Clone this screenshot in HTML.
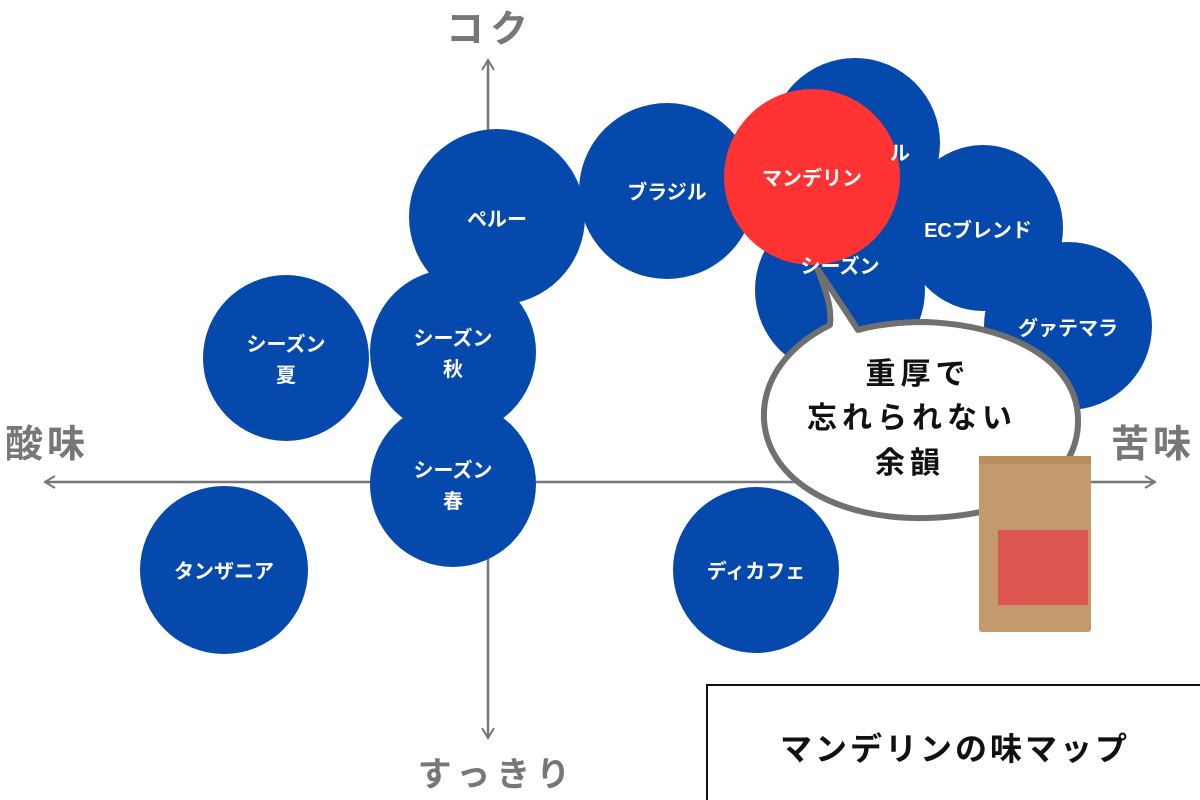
<!DOCTYPE html>
<html><head><meta charset="utf-8"><style>
body{margin:0;width:1200px;height:800px;background:#fff;overflow:hidden;font-family:"Liberation Sans","Noto Sans CJK JP",sans-serif}
</style></head><body>
<svg width="1200" height="800" viewBox="0 0 1200 800" style="position:absolute;left:0;top:0" font-family="Liberation Sans, Noto Sans CJK JP, sans-serif">
<line x1="488" y1="60" x2="488" y2="738" stroke="#777" stroke-width="2.5"/>
<path d="M482,70 L488,60 L494,70 M482,728 L488,738 L494,728" fill="none" stroke="#777" stroke-width="2"/>
<line x1="45" y1="482" x2="1155" y2="482" stroke="#777" stroke-width="2.5"/>
<path d="M55,476 L45,482 L55,488 M1145,476 L1155,482 L1145,488" fill="none" stroke="#777" stroke-width="2"/>
<g fill="#777" font-weight="bold" font-size="38">
<text x="490" y="42" text-anchor="middle" letter-spacing="6">コク</text>
<text x="47" y="457" text-anchor="middle" letter-spacing="4">酸味</text>
<text x="1153" y="457" text-anchor="middle" letter-spacing="4">苦味</text>
<text x="497" y="786" text-anchor="middle" font-size="34" letter-spacing="6">すっきり</text>
</g>
<g fill="#0649ac">
<circle cx="855" cy="143" r="85"/>
<circle cx="840" cy="290" r="85"/>
<ellipse cx="983" cy="228" rx="80" ry="83"/>
<circle cx="1068" cy="326" r="84"/>
<circle cx="667" cy="191" r="88"/>
<circle cx="497" cy="217" r="88"/>
<circle cx="286" cy="358" r="83"/>
<circle cx="453" cy="352" r="83"/>
<circle cx="453" cy="484" r="83"/>
<circle cx="224" cy="570" r="84"/>
<circle cx="756" cy="570" r="83"/>
<circle cx="885" cy="222" r="30"/>
</g>
<circle cx="812" cy="177" r="88" fill="#ff3333"/>
<g fill="#fff" font-weight="bold" font-size="20" text-anchor="middle">
<text x="900" y="160">ル</text>
<text x="840" y="273">シーズン</text>
<text x="812" y="185">マンデリン</text>
<text x="978" y="237">ECブレンド</text>
<text x="1068" y="335">グァテマラ</text>
<text x="667" y="199">ブラジル</text>
<text x="497" y="226">ペルー</text>
<text x="286" y="351">シーズン</text><text x="286" y="382">夏</text>
<text x="453" y="345">シーズン</text><text x="453" y="376">秋</text>
<text x="453" y="477">シーズン</text><text x="453" y="508">春</text>
<text x="224" y="578">タンザニア</text>
<text x="756" y="578">ディカフェ</text>
</g>
<path d="M818,270 C825,290 832,305 830,325 C790,345 762,378 764,420 C768,482 840,520 925,518 C1020,516 1080,478 1078,418 C1076,360 1010,325 925,322 C900,322 875,325 858,330 C845,310 832,290 818,270 Z" fill="#fff" stroke="#707070" stroke-width="6" stroke-linejoin="round"/>
<g fill="#111" font-weight="bold" font-size="30" text-anchor="middle" letter-spacing="5">
<text x="918" y="384">重厚で</text>
<text x="912" y="428">忘れられない</text>
<text x="910" y="473">余韻</text>
</g>
<rect x="979" y="456" width="112" height="176" rx="3" fill="#c49a6c"/>
<rect x="979" y="456" width="112" height="8" fill="#b88e5f"/>
<rect x="998" y="530" width="90" height="75" fill="#dd5550"/>
<rect x="707" y="685" width="500" height="120" fill="#fff" stroke="#111" stroke-width="2"/>
<text x="955" y="760" text-anchor="middle" font-weight="bold" font-size="32" fill="#111" letter-spacing="3">マンデリンの味マップ</text>
</svg>
</body></html>
